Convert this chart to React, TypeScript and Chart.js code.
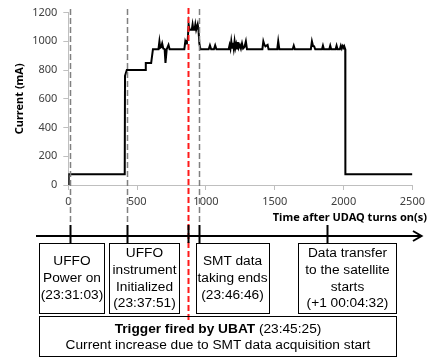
import React, { useEffect, useRef } from "react";
import { Chart, registerables } from "chart.js";

Chart.register(...registerables);

// ---- data ----
const times: number[] = [
  0, 3, 410, 412, 425, 560, 563, 602, 615,
  655, 662, 668, 675, 682, 690, 700, 706, 715, 728, 736,
  843, 850, 856, 862, 868, 874, 881, 897, 903, 909, 917, 923, 929, 934, 940, 946, 952, 960,
  1020, 1029, 1038, 1058, 1067, 1076,
  1165, 1172, 1178, 1184, 1190, 1196, 1202, 1208, 1214, 1220, 1226, 1232, 1238, 1246, 1254, 1262, 1270, 1280, 1290, 1298,
  1410, 1417, 1425, 1432, 1440, 1448, 1455,
  1518, 1525, 1533,
  1630, 1638, 1646,
  1762, 1770, 1778, 1786, 1794,
  1843, 1850, 1857, 1896, 1903, 1910, 1942, 1949, 1956, 1973, 1980, 1987, 1994, 2001, 2005, 2012, 2013, 2500,
];
const currents: number[] = [
  0, 75, 75, 760, 800, 800, 850, 850, 945,
  945, 1000, 955, 960, 985, 950, 945, 850, 945, 975, 945,
  945, 1000, 985, 1005, 1010, 1118, 1080, 1080, 1118, 1080, 1080, 1118, 1080, 1080, 1118, 1080, 985, 945,
  945, 972, 945, 945, 972, 945,
  945, 975, 950, 1000, 955, 990, 950, 1000, 955, 980, 950, 995, 955, 975, 950, 985, 950, 960, 1000, 945,
  945, 1000, 975, 965, 970, 975, 945,
  945, 1000, 945,
  945, 970, 945,
  945, 1000, 968, 965, 945,
  945, 970, 945, 945, 970, 945, 945, 970, 945, 945, 970, 950, 968, 955, 965, 945, 75, 75,
];
const xTickStep = 500;
const yTickStep = 200;
const xTitle = "Time after UDAQ turns on(s)";
const yTitle = "Current (mA)";

// event markers (seconds after UDAQ on)
const greyMarks: number[] = [12, 429, 951];
const triggerMark = 867;
const transferMark = 1883;

const boxes = [
  { left: 39, top: 243, width: 66, height: 71, lines: ["UFFO", "Power on", "(23:31:03)"] },
  { left: 109, top: 243, width: 71, height: 71, lines: ["UFFO", "instrument", "Initialized", "(23:37:51)"] },
  { left: 195.5, top: 243, width: 74, height: 71, lines: ["SMT data", "taking ends", "(23:46:46)"] },
  { left: 298, top: 243, width: 99, height: 71, lines: ["Data transfer", "to the satellite", "starts", "(+1 00:04:32)"] },
];

const tickFont = "'Noto Sans', 'DejaVu Sans', sans-serif";
const boxFont = "'Liberation Sans', Arial, sans-serif";

const annotPlugin = {
  id: "annot",
  afterDatasetsDraw(chart: any) {
    const { ctx } = chart;
    const xs = chart.scales.x;
    const px = (t: number) => Math.round(xs.getPixelForValue(t)) + 0.5;
    const line = (x1: number, y1: number, x2: number, y2: number) => {
      ctx.beginPath();
      ctx.moveTo(x1, y1);
      ctx.lineTo(x2, y2);
      ctx.stroke();
    };
    ctx.save();
    ctx.lineWidth = 1.5;
    ctx.strokeStyle = "#808080";
    ctx.setLineDash([6, 3]);
    for (const t of greyMarks) line(px(t), 9, px(t), 225);
    ctx.lineWidth = 2;
    ctx.strokeStyle = "#ff1a1a";
    line(px(triggerMark), 8, px(triggerMark), 320);
    ctx.setLineDash([]);
    ctx.strokeStyle = "#000";
    ctx.lineWidth = 2;
    for (const t of [...greyMarks, triggerMark, transferMark]) line(px(t), 225, px(t), 243);
    line(36, 236, 421, 236);
    ctx.beginPath();
    ctx.moveTo(413, 231);
    ctx.lineTo(421.5, 236);
    ctx.lineTo(413, 241);
    ctx.stroke();
    ctx.restore();
  },
};

function Box({ b }: { b: any }) {
  return (
    <div
      style={{
        position: "absolute",
        left: b.left,
        top: b.top,
        width: b.width,
        height: b.height,
        border: "1px solid #000",
        boxSizing: "border-box",
        display: "flex",
        flexDirection: "column",
        alignItems: "center",
        justifyContent: "center",
        fontFamily: boxFont,
        fontSize: "13.7px",
        lineHeight: "16.8px",
        color: "#000",
        textAlign: "center",
      }}
    >
      {b.lines.map((l: string, i: number) => (
        <div key={i} style={{ whiteSpace: "nowrap" }}>{l}</div>
      ))}
    </div>
  );
}

export default function App() {
  const ref = useRef<HTMLCanvasElement | null>(null);
  useEffect(() => {
    document.body.style.margin = "0";
    const chart = new Chart(ref.current as HTMLCanvasElement, {
      type: "line",
      data: {
        datasets: [
          {
            data: times.map((t, i) => ({ x: t, y: currents[i] })),
            borderColor: "#000",
            borderWidth: 2,
            pointRadius: 0,
            tension: 0,
            fill: false,
          },
        ],
      },
      options: {
        responsive: false,
        animation: false,
        layout: { padding: { left: 0, right: 15.7, top: 12, bottom: 149 } },
        plugins: { legend: { display: false }, tooltip: { enabled: false } },
        scales: {
          x: {
            type: "linear",
            min: 0,
            max: 2500,
            ticks: {
              stepSize: xTickStep,
              color: "#404040",
              font: { family: tickFont, size: 11 },
              padding: 5,
              maxRotation: 0,
              callback: (v: any) => String(v),
            },
            grid: { drawOnChartArea: false, tickLength: 5, color: "#bfbfbf" },
            border: { color: "#bfbfbf" },
            afterFit: (s: any) => { s.height = 30; },
          },
          y: {
            min: 0,
            max: 1200,
            ticks: {
              stepSize: yTickStep,
              color: "#404040",
              font: { family: tickFont, size: 11 },
              padding: 6,
              callback: (v: any) => String(v),
            },
            grid: { drawOnChartArea: false, tickLength: 5, color: "#bfbfbf" },
            border: { color: "#bfbfbf" },
            title: { display: true, text: yTitle, color: "#000", font: { family: tickFont, size: 11, weight: "bold" }, padding: { top: 13.4, bottom: 0 } },
            afterFit: (s: any) => { s.width = 68.3; },
          },
        },
      },
      plugins: [annotPlugin],
    } as any);
    return () => chart.destroy();
  }, []);
  return (
    <div style={{ position: "fixed", left: 0, top: 0, width: 430, height: 364, background: "#fff" }}>
      <canvas ref={ref} width={430} height={364} style={{ position: "absolute", left: 0, top: 0 }} />
      <div
        style={{
          position: "absolute",
          right: 3,
          top: 208.5,
          fontFamily: tickFont,
          fontSize: "11px",
          fontWeight: "bold",
          lineHeight: "16px",
          color: "#000",
          whiteSpace: "nowrap",
        }}
      >
        {xTitle}
      </div>
      {boxes.map((b, i) => (
        <Box key={i} b={b} />
      ))}
      <div
        style={{
          position: "absolute",
          left: 39,
          top: 316,
          width: 358,
          height: 41,
          border: "1px solid #000",
          boxSizing: "border-box",
          display: "flex",
          flexDirection: "column",
          alignItems: "center",
          justifyContent: "center",
          fontFamily: boxFont,
          fontSize: "13.7px",
          lineHeight: "15.7px",
          color: "#000",
          textAlign: "center",
        }}
      >
        <div style={{ whiteSpace: "nowrap" }}>
          <b>Trigger fired by UBAT</b> (23:45:25)
        </div>
        <div style={{ whiteSpace: "nowrap" }}>Current increase due to SMT data acquisition start</div>
      </div>
    </div>
  );
}
